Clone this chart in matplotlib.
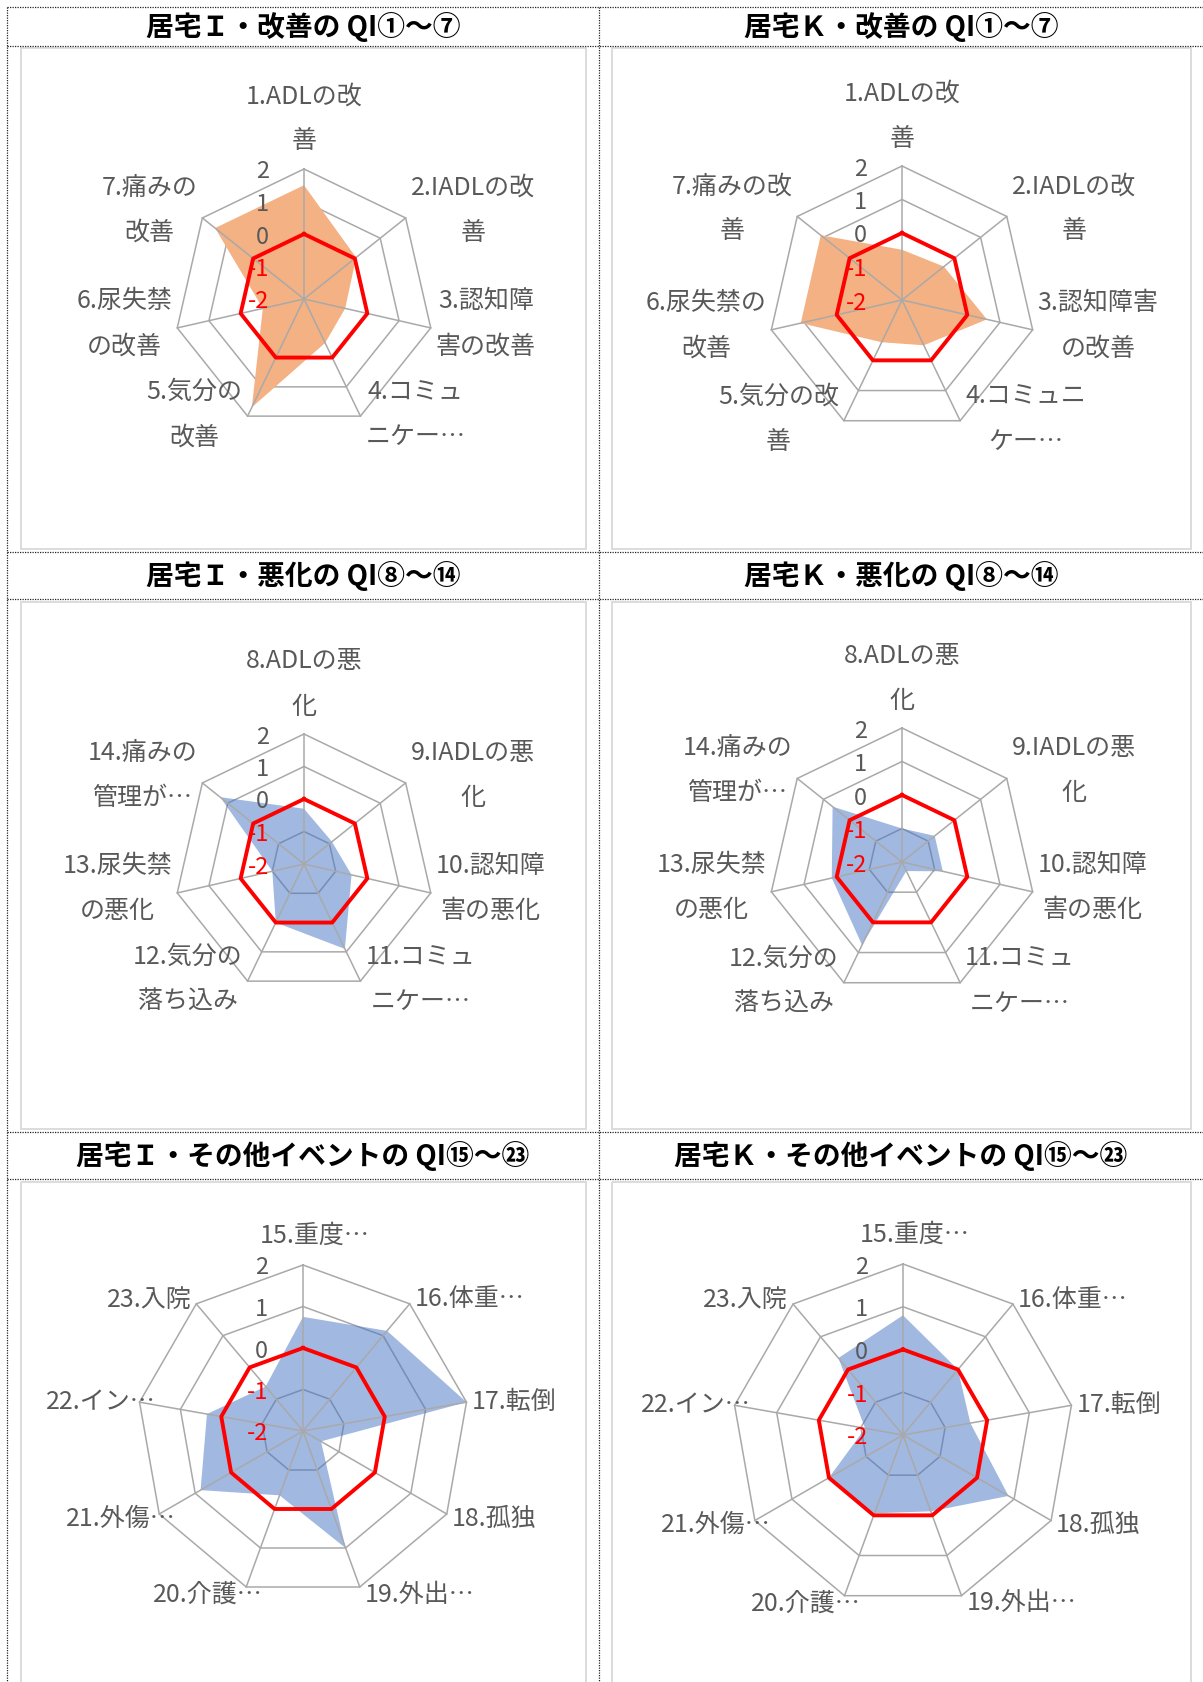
import numpy as np
import matplotlib.pyplot as plt
from matplotlib import transforms

plt.rcParams['font.family'] = ['Noto Sans CJK JP', 'DejaVu Sans']

W, H = 1203, 1682
DPI = 100

# chart titles
titles = [
    "居宅Ｉ・改善の QI①～⑦", "居宅Ｋ・改善の QI①～⑦",
    "居宅Ｉ・悪化の QI⑧～⑭", "居宅Ｋ・悪化の QI⑧～⑭",
    "居宅Ｉ・その他イベントの QI⑮～㉓", "居宅Ｋ・その他イベントの QI⑮～㉓",
]

# category labels (wrapped the way the source wraps them)
labels_kaizen_i = ["1.ADLの改\n善", "2.IADLの改\n善", "3.認知障\n害の改善", "4.コミュ\nニケー…",
                   "5.気分の\n改善", "6.尿失禁\nの改善", "7.痛みの\n改善"]
labels_kaizen_k = ["1.ADLの改\n善", "2.IADLの改\n善", "3.認知障害\nの改善", "4.コミュニ\nケー…",
                   "5.気分の改\n善", "6.尿失禁の\n改善", "7.痛みの改\n善"]
labels_akka = ["8.ADLの悪\n化", "9.IADLの悪\n化", "10.認知障\n害の悪化", "11.コミュ\nニケー…",
               "12.気分の\n落ち込み", "13.尿失禁\nの悪化", "14.痛みの\n管理が…"]
labels_other = ["15.重度…", "16.体重…", "17.転倒", "18.孤独", "19.外出…",
                "20.介護…", "21.外傷…", "22.イン…", "23.入院"]

# series values
vals_kaizen_i = [1.5, 0.05, -0.7, -0.5, 1.7, -0.7, 1.5]
vals_kaizen_k = [-0.5, -0.4, 0.6, -0.5, -0.6, 1.1, 1.1]
vals_akka_i = [-0.3, -0.9, -0.5, 0.9, 0.0, -1.0, 1.3]
vals_akka_k = [-1.0, -0.75, -0.75, -1.7, 0.75, 0.15, 0.65]
vals_other_i = [0.75, 1.15, 2.0, -1.5, 1.0, -0.35, 0.85, 0.35, -0.6]
vals_other_k = [0.8, 0.0, -0.4, 0.85, -0.1, -0.05, 0.0, -1.1, 0.35]

ticks = [2, 1, 0, -1, -2]
tick_colors = ['#595959', '#595959', '#595959', '#FF0000', '#FF0000']

ORANGE = '#F4B183'
BLUE = '#4472C4'
GRID = '#A9A9A9'
LABEL = '#595959'

fig = plt.figure(figsize=(W / DPI, H / DPI), dpi=DPI)
bg = fig.add_axes([0, 0, 1, 1])
bg.set_xlim(0, W)
bg.set_ylim(H, 0)
bg.axis('off')

# table frame: dotted lines
for y in [7, 46, 552, 599, 1132, 1179]:
    bg.plot([7, W], [y, y], color='#222222', lw=0.9, ls=(0, (1, 1)))
for x in [7, 599]:
    bg.plot([x, x], [7, H], color='#222222', lw=0.9, ls=(0, (1, 1)))

# chart area boxes
for (x0, x1) in [(21, 586), (612, 1191)]:
    for (y0, y1) in [(48, 549), (602, 1129), (1182, 1700)]:
        bg.add_patch(plt.Rectangle((x0, y0), x1 - x0, y1 - y0, fill=False,
                                   ec='#D9D9D9', lw=1.3))

title_pos = [(303, 27), (901, 27), (303, 576), (901, 576), (303, 1156), (901, 1156)]
for t, (x, y) in zip(titles, title_pos):
    bg.text(x, y, t, ha='center', va='center', fontsize=20, fontweight='bold',
            color='black')


def radar(cx, cy, R, labels, values, color, alpha):
    n = len(labels)
    ax = fig.add_axes([(cx - R) / W, 1 - (cy + R) / H, 2 * R / W, 2 * R / H],
                      projection='polar')
    ax.set_theta_zero_location('N')
    ax.set_theta_direction(-1)
    ax.set_ylim(-2, 2)
    ax.axis('off')

    theta = np.arange(n) * 2 * np.pi / n
    th = np.append(theta, theta[0])

    # polygon rings
    for v in ticks[:-1]:
        ax.plot(th, [v] * (n + 1), color=GRID, lw=1.1, zorder=1, clip_on=False)

    vals = np.append(values, values[0])
    ax.fill(th, vals, color=color, alpha=alpha, lw=0, zorder=2, clip_on=False)

    # spokes
    for t in theta:
        ax.plot([t, t], [-2, 2], color=GRID, lw=1.1, zorder=3, clip_on=False)

    # reference line at 0
    ax.plot(th, np.zeros(n + 1), color='#FF0000', lw=2.8, zorder=4, clip_on=False)

    # value tick labels
    tr = transforms.offset_copy(ax.transData, fig=fig, x=-35, y=-3, units='dots')
    for v, c in zip(ticks, tick_colors):
        ax.text(0, v, str(v), transform=tr, ha='right', va='center',
                fontsize=17, color=c, zorder=6)

    # category labels
    for t, lab in zip(theta, labels):
        nl = lab.count('\n') + 1
        s, c = np.sin(t), np.cos(t)
        trail = lab.endswith('…') and nl == 1
        if abs(s) < 1e-6:
            ha = 'center'
            dx = 12 if trail else 0
            dy = 29 + (nl - 1) * 21
        else:
            ha = 'left' if s > 0 else 'right'
            dx = 5 if s > 0 else -5
            if trail and s < 0:
                dx += 21
            dy = 5 + 4 * c if nl > 1 else 7 * c - 1
        trl = transforms.offset_copy(ax.transData, fig=fig, x=dx, y=dy, units='dots')
        ax.text(t, 2, lab, transform=trl, ha=ha, va='center', multialignment='center',
                fontsize=18, color=LABEL, linespacing=1.95, zorder=6)


radar(304, 299, 130, labels_kaizen_i, vals_kaizen_i, ORANGE, 1.0)
radar(902, 300, 134, labels_kaizen_k, vals_kaizen_k, ORANGE, 1.0)
radar(304, 864, 130, labels_akka, vals_akka_i, BLUE, 0.5)
radar(902, 862, 134, labels_akka, vals_akka_k, BLUE, 0.5)
radar(303, 1431, 166, labels_other, vals_other_i, BLUE, 0.5)
radar(903, 1435, 171, labels_other, vals_other_k, BLUE, 0.5)

fig.savefig('out.png', dpi=DPI)
